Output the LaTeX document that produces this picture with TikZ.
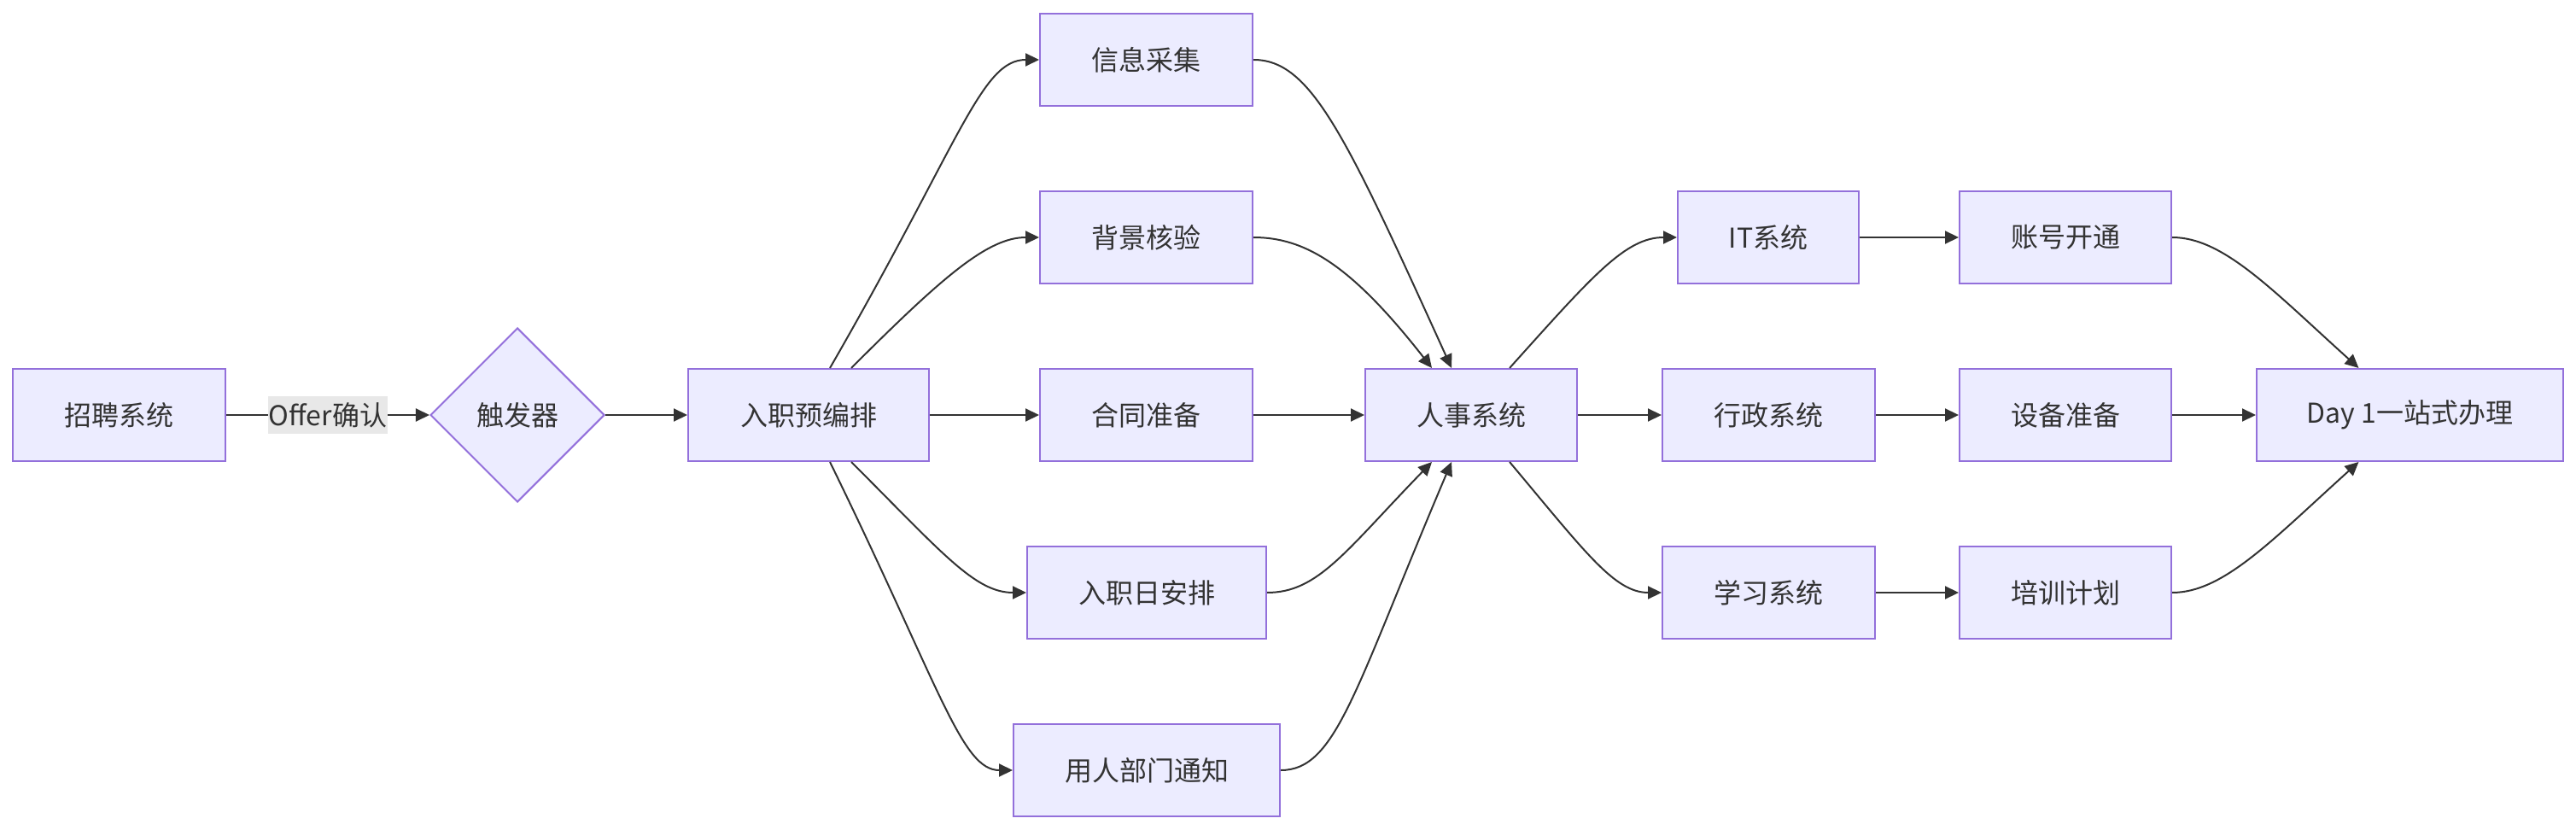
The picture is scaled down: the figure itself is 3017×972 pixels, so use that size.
\documentclass[tikz,border=0pt]{standalone}
\usepackage{fontspec}
\setmainfont{Noto Sans CJK SC}
\usepackage{tikz}
\usetikzlibrary{arrows.meta, shapes.geometric}
\usepackage{xcolor}
\definecolor{boxfill}{HTML}{ECECFF}
\definecolor{boxline}{HTML}{9370DB}
\definecolor{ink}{HTML}{333333}
\definecolor{labelbg}{HTML}{E8E8E8}

\begin{document}
\begin{tikzpicture}[x=0.5pt, y=-0.5pt,
  box/.style={draw=boxline, fill=boxfill, line width=1pt, text=ink, minimum height=54pt, inner sep=0pt, font=\fontsize{16}{19}\selectfont},
  flow/.style={draw=ink, line width=1pt, -{Triangle[length=8pt, width=7.5pt]}},
  tag/.style={fill=labelbg, text=ink, inner xsep=0.5pt, inner ysep=3.5pt, font=\fontsize{16}{19}\selectfont}]
  \useasboundingbox (0,0) rectangle (3017,972);
  % start
  \node[box, minimum width=124.5pt] (recruit) at (139.5,486) {招聘系统};
  \node[box, diamond, aspect=1, minimum size=102pt] (trigger) at (606,486) {触发器};
  \node[box, minimum width=141pt] (plan) at (947,486) {入职预编排};
  % preparation tasks
  \node[box, minimum width=124.5pt] (info) at (1342.5,70) {信息采集};
  \node[box, minimum width=124.5pt] (check) at (1342.5,278) {背景核验};
  \node[box, minimum width=124.5pt] (contract) at (1342.5,486) {合同准备};
  \node[box, minimum width=140pt] (dayplan) at (1343,694) {入职日安排};
  \node[box, minimum width=156pt] (notify) at (1343,902) {用人部门通知};
  % systems
  \node[box, minimum width=124pt] (hr) at (1723,486) {人事系统};
  \node[box, minimum width=106pt] (it) at (2071,278) {IT系统};
  \node[box, minimum width=124.5pt] (admin) at (2071.5,486) {行政系统};
  \node[box, minimum width=124.5pt] (learn) at (2071.5,694) {学习系统};
  \node[box, minimum width=124pt] (account) at (2419,278) {账号开通};
  \node[box, minimum width=124pt] (device) at (2419,486) {设备准备};
  \node[box, minimum width=124pt] (training) at (2419,694) {培训计划};
  \node[box, minimum width=179.5pt] (dayone) at (2822.5,486) {Day 1一站式办理};

  \draw[flow] (recruit) -- node[tag] {Offer确认} (trigger);
  \draw[flow] (trigger) -- (plan);
  % fan out
  \draw[flow] ([xshift=12.5pt]plan.north) .. controls +(154,-267) and +(-68,0) .. (info.west);
  \draw[flow] ([xshift=25pt]plan.north) .. controls +(107,-107) and +(-60,0) .. (check.west);
  \draw[flow] (plan) -- (contract);
  \draw[flow] ([xshift=25pt]plan.south) .. controls +(107,107) and +(-60,0) .. (dayplan.west);
  \draw[flow] ([xshift=12.5pt]plan.south) .. controls +(130,266) and +(-60,0) .. (notify.west);
  % fan in
  \draw[flow] (info.east) .. controls +(67,0) and +(-125,-275) .. ([xshift=-11.5pt]hr.north);
  \draw[flow] (check.east) .. controls +(61,0) and +(-94,-120) .. ([xshift=-23pt]hr.north);
  \draw[flow] (contract) -- (hr);
  \draw[flow] (dayplan.east) .. controls +(60,0) and +(-101,104) .. ([xshift=-23pt]hr.south);
  \draw[flow] (notify.east) .. controls +(65,0) and +(-114,268) .. ([xshift=-11.5pt]hr.south);
  % systems
  \draw[flow] ([xshift=22.5pt]hr.north) .. controls +(98,-109) and +(-60,0) .. (it.west);
  \draw[flow] (hr) -- (admin);
  \draw[flow] ([xshift=22.5pt]hr.south) .. controls +(89,106) and +(-55,0) .. (learn.west);
  \draw[flow] (it) -- (account);
  \draw[flow] (admin) -- (device);
  \draw[flow] (learn) -- (training);
  % day one
  \draw[flow] (account.east) .. controls +(60,0) and +(-101,-91) .. ([xshift=-30pt]dayone.north);
  \draw[flow] (device) -- (dayone);
  \draw[flow] (training.east) .. controls +(60,0) and +(-101,91) .. ([xshift=-30pt]dayone.south);
\end{tikzpicture}
\end{document}
